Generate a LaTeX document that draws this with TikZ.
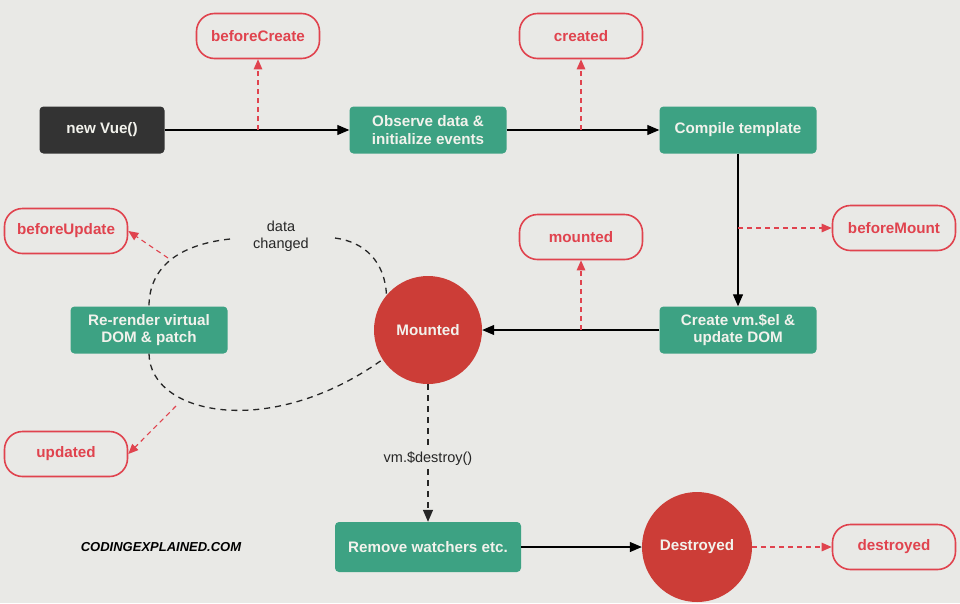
\documentclass[tikz,border=0pt]{standalone}
\usepackage{fontspec}
\setmainfont{Liberation Sans}
\usetikzlibrary{arrows.meta}
\definecolor{bg}{HTML}{E9E9E6}
\definecolor{vgreen}{HTML}{3DA283}
\definecolor{vdark}{HTML}{333333}
\definecolor{vred}{HTML}{CC3D37}
\definecolor{hookred}{HTML}{E0434E}
\definecolor{boxtext}{HTML}{F2F2EC}
\tikzset{
  stepbox/.style={rectangle, rounded corners=4pt, fill=vgreen, text=boxtext, font=\bfseries\fontsize{15.2}{17.5}\selectfont, minimum width=157pt, minimum height=47pt, align=center, inner sep=2pt},
  darkbox/.style={stepbox, fill=vdark, minimum width=125pt},
  hook/.style={rectangle, rounded corners=18pt, draw=hookred, line width=1.6pt, fill=bg, text=hookred, font=\bfseries\fontsize{15.2}{17}\selectfont, minimum width=123pt, minimum height=45pt},
  statecirc/.style={circle, fill=vred, text=boxtext, font=\bfseries\fontsize{15.2}{17}\selectfont, minimum size=108pt, inner sep=0pt},
  flow/.style={draw=black, line width=1.1pt, -{Triangle[length=12pt,width=10pt]}},
  hookarrow/.style={draw=hookred, line width=1.1pt, dash pattern=on 5pt off 4pt, -{Triangle[length=10pt,width=8.5pt]}},
  loopline/.style={draw=black!85, line width=1.3pt, dash pattern=on 6pt off 5pt},
  lbl/.style={font=\fontsize{14.5}{16.5}\selectfont, text=black!85, align=center}
}
\begin{document}
\begin{tikzpicture}[x=1pt,y=-1pt]
\fill[bg] (0,0) rectangle (960,603);
\useasboundingbox (0,0) rectangle (960,603);

% main nodes
\node[darkbox] (vue) at (102,130) {new Vue()};
\node[stepbox] (observe) at (428,130) {Observe data \&\\initialize events};
\node[stepbox] (compile) at (738,130) {Compile template};
\node[stepbox] (create) at (738,330) {Create vm.\$el \&\\update DOM};
\node[statecirc] (mounted) at (428,330) {Mounted};
\node[stepbox] (rerender) at (149,330) {Re-render virtual\\DOM \& patch};
\node[stepbox, minimum width=186pt, minimum height=50pt] (remove) at (428,547) {Remove watchers etc.};
\node[statecirc, minimum size=110pt] (destroyed) at (697,547) {Destroyed};

% hooks
\node[hook] (hBC) at (258,36) {beforeCreate};
\node[hook] (hC) at (581,36) {created};
\node[hook] (hBM) at (894,228) {beforeMount};
\node[hook] (hM) at (581,237) {mounted};
\node[hook] (hBU) at (66,231) {beforeUpdate};
\node[hook] (hU) at (66,454) {updated};
\node[hook] (hD) at (894,547) {destroyed};

% texts
\node[lbl] (datachanged) at (281,236) {data\\changed};
\node[lbl] (destroycall) at (428,459) {vm.\$destroy()};
\node[font=\bfseries\itshape\fontsize{13}{15}\selectfont, text=black] (brand) at (161,547) {CODINGEXPLAINED.COM};

% main flow
\draw[flow] (vue) -- (observe);
\draw[flow] (observe) -- (compile);
\draw[flow] (compile) -- (create);
\draw[flow] (create) -- (mounted);
\draw[flow] (remove) -- (destroyed);
\draw[loopline] (mounted.south) -- (destroycall.north);
\draw[loopline, -{Triangle[length=12pt,width=10pt]}] (destroycall.south) -- (remove.north);

% hook arrows
\coordinate (bcS) at (hBC.south |- vue.east);
\coordinate (cS) at (hC.south |- observe.east);
\coordinate (bmS) at (compile.south |- hBM.west);
\coordinate (mS) at (hM.south |- create.west);
\draw[hookarrow] (bcS) -- (hBC.south);
\draw[hookarrow] (cS) -- (hC.south);
\draw[hookarrow] (bmS) -- (hBM.west);
\draw[hookarrow] (mS) -- (hM.south);
\draw[hookarrow] (destroyed) -- (hD);

% update loop
\coordinate (lpA) at (335,238);
\coordinate (lpB) at (230,239);
\draw[loopline] (lpA) .. controls (365,242) and (385,262) .. (mounted.140);
\draw[loopline] (lpB) .. controls (175,245) and (149,270) .. (rerender.north);
\draw[loopline] (rerender.south) .. controls (150,415) and (270,440) .. (mounted.213);
\coordinate (buS) at (168,258);
\coordinate (uS) at (176,406);
\draw[hookarrow] (buS) -- (hBU.east);
\draw[hookarrow] (uS) -- (hU.east);
\end{tikzpicture}
\end{document}
